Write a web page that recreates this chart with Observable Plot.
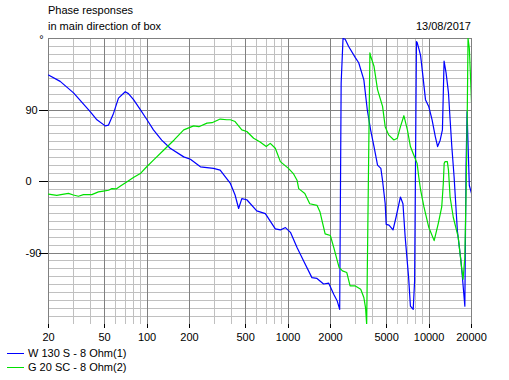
<!DOCTYPE html>
<html>
<head>
<meta charset="utf-8">
<script src="https://cdn.jsdelivr.net/npm/d3@7"></script>
<script src="https://cdn.jsdelivr.net/npm/@observablehq/plot@0.6"></script>
<style>
  html, body { margin: 0; padding: 0; background: #fff; }
  #wrap { position: relative; width: 509px; height: 380px; font-family: "Liberation Sans", Arial, sans-serif; font-size: 11px; color: #000; }
  .t { position: absolute; white-space: nowrap; line-height: 1; }
  .leg { position: absolute; left: 7px; width: 17px; height: 1px; }
</style>
</head>
<body>
<div id="wrap">
  <div class="t" style="left:48px; top:5px;">Phase responses</div>
  <div class="t" style="left:48px; top:21px;">in main direction of box</div>
  <div class="t" style="right:38px; top:21px;">13/08/2017</div>
  <div id="chart" style="position:absolute; left:0; top:0;"></div>
  <div class="leg" style="top:353px; background:#0000ff;"></div>
  <div class="t" style="left:28px; top:348px;">W 130 S - 8 Ohm(1)</div>
  <div class="leg" style="top:367px; background:#00e000;"></div>
  <div class="t" style="left:28px; top:362px;">G 20 SC - 8 Ohm(2)</div>
</div>
<script>
// Tick labels
const xTicks = [20, 50, 100, 200, 500, 1000, 2000, 5000, 10000, 20000];
const yTicks = [-90, 0, 90];
const seriesNames = ["W 130 S - 8 Ohm(1)", "G 20 SC - 8 Ohm(2)"];
const seriesColors = ["#0000ff", "#00e000"];

// W 130 S - 8 Ohm(1): frequency (Hz) and phase (deg)
const blueFreq = [20,24.2,30.1,39.5,44.1,50.5,53.3,57.9,62.7,70,73.8,80.2,89.6,99.9,111,127,146,182,203,239,296,330,358,390,421,446,470,510,600,690,812,882,958,1040,1158,1290,1476,1604,1786,1944,2108,2228,2324,2380,2454,2542,2690,3000,3170,3448,3648,3850,4070,4312,4552,4680,4886,4966,5200,5552,5832,6268,6530,6772,7164,7376,7720,7900,8140,8230,8500,8716,8990,9434,9946,10508,11074,11500,11990,12440,12780,13200,13732,14106,14500,15050,15880,16840,17400,17940,18300,18600,19300,20000];
const bluePhase = [134,126,111.5,88,77.7,70,71,86,105,113,110.6,103,90.4,77.7,65,52,41.8,31,28,18.5,16.5,14.3,6,-2.5,-17,-34,-21.5,-23,-37,-40.5,-59.6,-61,-58,-64,-83,-100,-121,-122,-129,-128,-142,-150,-161,124,180,179,170,156,149.5,128,90,65,44,20.6,16.5,1,-28,-54,-55,-61,-45,-19.5,-28,-70,-121,-157,-161,-125,176,175,166,158,137,103,94.5,77.7,56.5,44,52,65,151.6,137,111.5,77.7,44,6,-62,-100,-129,-157,20,88,-5,-15];

// G 20 SC - 8 Ohm(2): frequency (Hz) and phase (deg)
const greenFreq = [20,22.9,24.5,27.7,30,32.6,35.4,40.6,45.2,49,53.3,56.3,60.4,64.4,71.7,80,89.6,97.5,111,131.5,155.6,182,214,233,266,289,330,368,390,421,470,510,570,630,700,748,812,882,1006,1090,1158,1190,1315,1425,1604,1686,1832,1995,2108,2300,2430,2610,2754,3000,3276,3448,3545,3610,3806,3850,4070,4312,4680,4886,5170,5630,5960,6268,6630,7020,7376,7800,8230,8450,8716,9200,9946,10870,11620,12300,12620,12800,13000,13480,13730,14100,14850,16100,17000,17430,17930,18300,18600,18900,19300,19700,20000];
const greenPhase = [-16,-17.4,-16.5,-15,-17,-18.6,-16.5,-16.5,-13,-12,-11,-9,-9.4,-6,-0.5,5,10,17,27,39.7,52.3,65,70,69,73.5,74,78.6,77.7,77.7,75.5,65,63,54.5,50,44,48,41.8,25,16.5,10,1.6,-9,-15,-28,-30,-38.5,-66,-68,-83,-108,-112.5,-114.6,-131.5,-131.5,-135.6,-146,-159,-180,162,158,145,115.7,94.5,69,58.7,52.3,54.5,69,82.8,65,44,33,22.8,6,-11,-32,-57.5,-74.4,-53,-32,-2.5,22.8,25,25,14.3,-19.5,-45,-70,-108,-123,-96,-15,63,180,168,130,100];

const blue = blueFreq.map((f, i) => ({f, p: bluePhase[i]}));
const green = greenFreq.map((f, i) => ({f, p: greenPhase[i]}));

// grid positions
const minorX = [], majorX = [];
for (const dec of [10, 100, 1000, 10000]) {
  for (let m = 1; m <= 9; m++) {
    const v = m * dec;
    if (v < 20 || v > 20000) continue;
    if (m === 1 || m === 2 || m === 5) majorX.push(v); else minorX.push(v);
  }
}
const minorY = d3.range(-170, 180, 10).filter(v => v % 90 !== 0);
const majorY = [-90, 0, 90, 180];

const chart = Plot.plot({
  width: 509,
  height: 380,
  marginTop: 38,
  marginBottom: 56,
  marginLeft: 48,
  marginRight: 38,
  style: {fontFamily: "Liberation Sans, Arial, sans-serif", fontSize: "11px", color: "#000", background: "transparent", overflow: "visible"},
  x: {type: "log", domain: [20, 20000], axis: null},
  y: {domain: [-180, 180], axis: null},
  marks: [
    Plot.ruleX(minorX, {stroke: "#c0c0c0", shapeRendering: "crispEdges"}),
    Plot.ruleY(minorY, {stroke: "#c0c0c0", shapeRendering: "crispEdges"}),
    Plot.ruleX(majorX, {stroke: "#808080", shapeRendering: "crispEdges"}),
    Plot.ruleY(majorY, {stroke: "#808080", shapeRendering: "crispEdges"}),
    Plot.line(blue, {x: "f", y: "p", stroke: seriesColors[0], strokeWidth: 1.2, clip: true}),
    Plot.line(green, {x: "f", y: "p", stroke: seriesColors[1], strokeWidth: 1.2, clip: true}),
    // x axis: tick marks below frame and labels
    Plot.ruleX(xTicks, {x: d => d, y1: -180, y2: -180, insetBottom: -4, stroke: "#000", shapeRendering: "crispEdges"}),
    Plot.text(xTicks, {x: d => d, y: -180, dy: 13, text: d => String(d), fill: "#000", fontSize: 11}),
    // y axis: tick marks left of frame and left-aligned labels
    Plot.ruleY(yTicks, {y: d => d, x1: 20, x2: 20, insetLeft: -9, stroke: "#000", shapeRendering: "crispEdges"}),
    Plot.text(yTicks, {y: d => d, frameAnchor: "left", dx: -23, textAnchor: "start", text: d => String(d), fill: "#000", fontSize: 11}),
    Plot.text(["°"], {x: 20, y: 180, dx: -7, dy: 1, textAnchor: "middle", fontSize: 11})
  ]
});
document.getElementById("chart").appendChild(chart);
</script>
</body>
</html>
